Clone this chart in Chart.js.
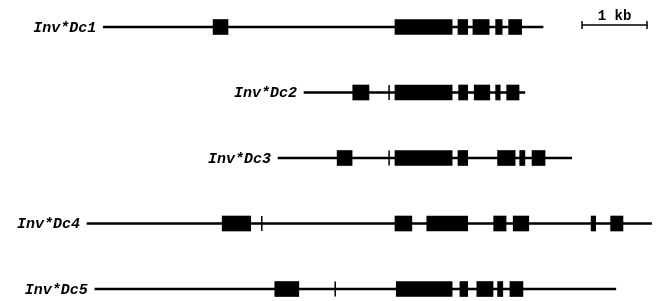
<!DOCTYPE html>
<html lang="en">

<head>
    <meta charset="UTF-8">
    <title>Inv*Dc gene structures</title>
    <script src="https://cdn.jsdelivr.net/npm/chart.js"></script>
    <style>
        body { margin: 0; background: #fff; }
        #geneChart { display: block; }
    </style>
</head>

<body>
    <canvas id="geneChart" width="660" height="301"></canvas>

    <script>
        // positions in kb, 0 = start of the large exon
        const geneNames = ['Inv*Dc1', 'Inv*Dc2', 'Inv*Dc3', 'Inv*Dc4', 'Inv*Dc5'];
        const geneSpans = [[-4.49, 2.28], [-1.40, 2.00], [-1.80, 2.72], [-4.74, 3.95], [-4.62, 3.40]];
        const geneExons = [
            [[-2.80, -2.57], [0, 0.88], [0.97, 1.12], [1.20, 1.45], [1.55, 1.65], [1.75, 1.95]],
            [[-0.65, -0.40], [0, 0.88], [0.98, 1.12], [1.22, 1.46], [1.55, 1.62], [1.72, 1.91]],
            [[-0.89, -0.66], [0, 0.88], [0.97, 1.12], [1.58, 1.85], [1.92, 2.00], [2.11, 2.31]],
            [[-2.66, -2.22], [0, 0.26], [0.49, 1.12], [1.52, 1.71], [1.82, 2.06], [3.02, 3.09], [3.32, 3.51]],
            [[-1.85, -1.48], [0.02, 0.88], [1.00, 1.12], [1.26, 1.51], [1.58, 1.66], [1.77, 1.97]]
        ];
        const siteMarks = [null, -0.09, -0.09, -2.05, -0.92];
        const scaleBar = [2.88, 3.88];
        const scaleBarLabel = '1 kb';

        const intronData = geneSpans.map((s, i) => ({ y: i, x: s }));
        const exonData = [];
        geneExons.forEach((list, i) => list.forEach(e => exonData.push({ y: i, x: e })));
        const markData = [];
        siteMarks.forEach((m, i) => { if (m !== null) markData.push({ x: m, y: i }); });
        const barY = -0.03;

        // gene names and the scale bar label
        const textPlugin = {
            id: 'geneText',
            afterDatasetsDraw(chart) {
                const ctx = chart.ctx;
                const xs = chart.scales.x, ys = chart.scales.y;
                ctx.save();
                ctx.fillStyle = '#000';
                ctx.font = 'bold italic 15px "Liberation Mono"';
                ctx.textAlign = 'right';
                ctx.textBaseline = 'middle';
                geneNames.forEach((name, i) => {
                    ctx.fillText(name, xs.getPixelForValue(geneSpans[i][0]) - 7, ys.getPixelForValue(i) + 1);
                });
                ctx.font = 'bold 14px "Liberation Mono"';
                ctx.textAlign = 'center';
                ctx.textBaseline = 'alphabetic';
                const mid = (scaleBar[0] + scaleBar[1]) / 2;
                ctx.fillText(scaleBarLabel, xs.getPixelForValue(mid), ys.getPixelForValue(barY) - 5);
                ctx.restore();
            }
        };

        new Chart(document.getElementById('geneChart'), {
            type: 'bar',
            data: {
                datasets: [
                    {
                        indexAxis: 'y',
                        data: intronData,
                        backgroundColor: '#000',
                        barThickness: 2,
                        grouped: false
                    },
                    {
                        indexAxis: 'y',
                        data: exonData,
                        backgroundColor: '#000',
                        barThickness: 15,
                        grouped: false
                    },
                    {
                        type: 'scatter',
                        data: markData,
                        pointStyle: 'line',
                        rotation: 90,
                        radius: 7.5,
                        borderWidth: 1.5,
                        borderColor: '#000'
                    },
                    {
                        type: 'line',
                        data: scaleBar.map(v => ({ x: v, y: barY })),
                        borderColor: '#000',
                        borderWidth: 1.5,
                        pointStyle: 'line',
                        rotation: 90,
                        pointRadius: 4,
                        pointBorderWidth: 1.5,
                        pointBorderColor: '#000'
                    }
                ]
            },
            options: {
                responsive: false,
                animation: false,
                layout: { padding: 0, autoPadding: false },
                scales: {
                    x: { type: 'linear', min: -6.08, max: 4.08, offset: false, display: false },
                    y: { type: 'linear', min: -0.412, max: 4.183, offset: false, reverse: true, display: false }
                },
                plugins: {
                    legend: { display: false },
                    tooltip: { enabled: false }
                }
            },
            plugins: [textPlugin]
        });
    </script>
</body>

</html>
